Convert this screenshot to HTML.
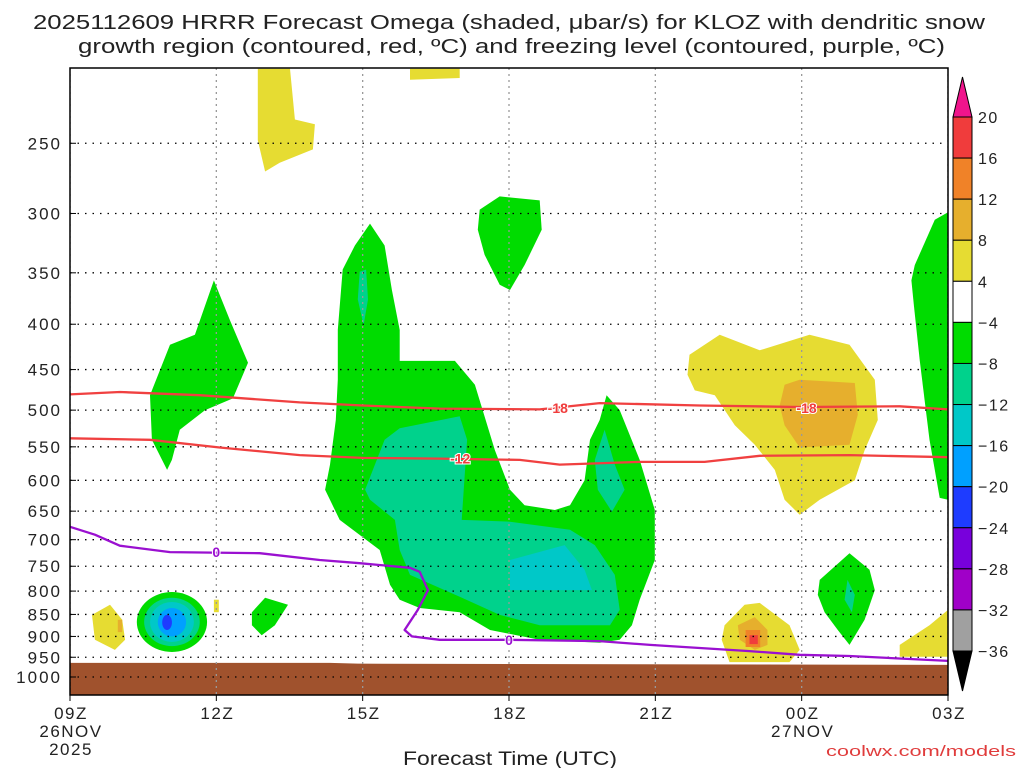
<!DOCTYPE html>
<html><head><meta charset="utf-8"><style>
body{margin:0;background:#fff;}
svg{display:block;font-family:"Liberation Sans",sans-serif;}
</style></head><body>
<svg id="c" width="1024" height="768" xmlns="http://www.w3.org/2000/svg">
<text x="33" y="29" textLength="952" lengthAdjust="spacingAndGlyphs" font-size="20" fill="#222">2025112609 HRRR Forecast Omega (shaded, μbar/s) for KLOZ with dendritic snow</text>
<text x="78" y="53" textLength="867" lengthAdjust="spacingAndGlyphs" font-size="20" fill="#222">growth region (contoured, red, ºC) and freezing level (contoured, purple, ºC)</text>
<text x="403" y="765" textLength="214" lengthAdjust="spacingAndGlyphs" font-size="19" fill="#222">Forecast Time (UTC)</text>
<text x="826" y="756" textLength="190" lengthAdjust="spacingAndGlyphs" font-size="15" fill="#e03c3c">coolwx.com/models</text>
</svg>
<script>
const xTicks=[0,3,6,9,12,15,18];
const xTickLabels=["09Z","12Z","15Z","18Z","21Z","00Z","03Z"];
const dateLabels=[[0,"26NOV","2025"],[15,"27NOV",""]];
const pTicks=[250,300,350,400,450,500,550,600,650,700,750,800,850,900,950,1000];
const cbLevels=["20","16","12","8","4","−4","−8","−12","−16","−20","−24","−28","−32","−36"];
const cbColors=["#f03c3c","#f08228","#e6af2d","#e6dc32","#ffffff","#00dc00","#00d28c","#00c8c8","#00a0ff","#1e3cff","#7800dc","#a000c8","#a0a0a0"];
const shadeColors={green:"#00dc00",teal:"#00d28c",cyan:"#00c8c8",lblue:"#00a0ff",dblue:"#1e3cff",yellow:"#e6dc32",dyellow:"#e6af2d",orange:"#f08228",red:"#f03c3c"};
const areas=[
["green",[[6.15,308],[6.45,326],[6.6,366],[6.76,406],[6.76,440],[7.89,440],[8.3,468],[8.71,555],[9.02,615],[9.32,640],[9.94,648],[10.25,640],[10.55,600],[10.66,540],[10.86,513],[11.0,481],[11.27,500],[11.68,569],[11.99,648],[11.99,738],[11.68,818],[11.52,874],[11.27,908],[10.86,915],[9.63,908],[8.61,885],[7.99,845],[7.17,836],[6.76,818],[6.56,787],[6.35,719],[5.53,665],[5.23,615],[5.33,576],[5.45,513],[5.49,462],[5.49,406],[5.59,347],[5.84,326]]],
["teal",[[6.05,615],[6.45,540],[6.76,524],[7.99,508],[8.14,540],[8.03,665],[9.02,668],[10.25,682],[10.76,710],[11.17,767],[11.27,840],[11.07,874],[9.63,874],[8.81,851],[7.99,812],[6.97,767],[6.76,719],[6.66,665],[6.15,631]]],
["cyan",[[9.02,738],[10.14,710],[10.55,757],[10.7,798],[9.02,798]]],
["teal",[[5.94,349],[6.07,347],[6.11,375],[6.02,401],[5.9,375]]],
["teal",[[10.96,526],[11.17,576],[11.37,615],[11.11,651],[10.82,615],[10.76,569]]],
["green",[[1.64,481],[2.05,422],[2.56,411],[2.95,357],[3.28,396],[3.65,442],[3.34,485],[2.77,500],[2.25,526],[2.09,569],[1.99,584],[1.68,540]]],
["green",[[8.4,297],[8.81,287],[9.63,290],[9.67,313],[9.32,343],[9.02,366],[8.81,361],[8.5,334],[8.36,313]]],
["yellow",[[3.85,206],[4.51,206],[4.61,235],[5.02,238],[4.98,254],[4.3,263],[4.0,269],[3.85,248]]],
["yellow",[[6.97,206],[7.99,206],[7.99,211],[6.97,212]]],
["yellow",[[12.7,433],[13.32,411],[14.14,428],[15.16,411],[15.98,422],[16.5,462],[16.56,513],[16.29,555],[16.09,600],[15.37,631],[14.96,656],[14.65,631],[14.45,584],[14.04,547],[13.63,520],[13.22,481],[12.81,475],[12.66,456]]],
["dyellow",[[14.65,468],[14.96,462],[16.09,466],[16.15,506],[15.98,547],[14.96,551],[14.65,520],[14.55,494]]],
["green",[[17.32,343],[17.73,305],[18,299],[18,631],[17.83,628],[17.62,540],[17.52,487],[17.42,439],[17.3,381],[17.25,357]]],
["yellow",[[17.01,920],[17.62,874],[18,840],[18,949],[17.01,949]]],
["green",[[15.37,777],[15.98,725],[16.39,757],[16.5,798],[16.29,862],[15.98,920],[15.74,885],[15.47,845],[15.33,808]]],
["teal",[[15.94,777],[16.09,808],[16.03,845],[15.88,818]]],
["yellow",[[13.42,874],[13.83,829],[14.14,825],[14.75,874],[14.96,932],[14.75,962],[13.52,962],[13.36,908]]],
["dyellow",[[13.69,874],[14.04,856],[14.3,885],[14.3,920],[14.04,932],[13.73,908]]],
["orange",[[13.85,885],[14.15,885],[14.15,925],[13.85,925]]],
["red",[[13.93,897],[14.1,897],[14.1,918],[13.93,918]]],
["yellow",[[0.45,851],[0.82,829],[1.07,862],[1.13,908],[0.92,932],[0.51,908]]],
["dyellow",[[0.98,862],[1.07,862],[1.07,890],[0.98,890]]],
["green",[[3.73,845],[4.0,814],[4.47,829],[4.2,874],[3.93,897],[3.73,874]]],
["yellow",[[2.95,818],[3.05,818],[3.05,845],[2.95,845]]]
];
const blobs=[
["green",1.37,2.81,802,937],["teal",1.52,2.66,814,923],["cyan",1.64,2.54,823,913],["lblue",1.80,2.38,836,900],["dblue",1.89,2.09,851,885]
];
const ground=[[0,964],[5.33,964],[5.9,966],[18,969]];
const line18=[[0,480],[1.02,477],[2.66,481],[4.71,490],[6.0,494],[7.58,498],[9.63,499],[10.86,491],[12.91,494],[14.96,496],[17.01,495],[18,499]];
const line12=[[0,538],[1.64,540],[3.07,551],[4.71,562],[6.0,566],[7.58,567],[9.22,569],[10.04,576],[11.68,572],[13.01,572],[14.14,563],[15.98,562],[18,565]];
const line0=[[0,677],[0.51,691],[1.02,711],[2.05,723],[3.89,725],[5.12,738],[5.94,744],[6.97,753],[7.17,761],[7.34,798],[7.13,840],[6.86,885],[7.01,900],[7.58,908],[9.02,908],[10.86,911],[11.89,920],[13.93,935],[14.96,944],[15.98,947],[18,959]];
const lineLabels=[["-18",10.0,497,"#f03c3c"],["-18",15.1,497,"#f03c3c"],["-12",8.0,567,"#f03c3c"],["0",3.0,723,"#9a10d0"],["0",9.0,908,"#9a10d0"]];

const X0=70,X1=948,Y0=68,Y1=695;
const xs=h=>X0+h*(X1-X0)/18;
const ys=p=>677-385*Math.log(1000/p);
const NS="http://www.w3.org/2000/svg";
const svg=document.getElementById('c');
function mk(t,a,parent){const e=document.createElementNS(NS,t);for(const k in a)e.setAttribute(k,a[k]);(parent||svg).appendChild(e);return e;}
const pts=arr=>arr.map(d=>xs(d[0]).toFixed(1)+","+ys(d[1]).toFixed(1)).join(" ");

const clip=mk('clipPath',{id:'pc'});mk('rect',{x:X0,y:Y0,width:X1-X0,height:Y1-Y0},clip);
const g=mk('g',{'clip-path':'url(#pc)'});


areas.forEach(a=>{const e=mk('polygon',{points:pts(a[1]),fill:shadeColors[a[0]]},g);

});
blobs.forEach(b=>{const cx=(xs(b[1])+xs(b[2]))/2,cy=(ys(b[3])+ys(b[4]))/2;
const e=mk('ellipse',{cx:cx,cy:cy,rx:(xs(b[2])-xs(b[1]))/2,ry:(ys(b[4])-ys(b[3]))/2,fill:shadeColors[b[0]]},g);

});
const gp=ground.map(d=>xs(d[0])+","+ys(d[1])).join(" ")+" "+xs(18)+","+Y1+" "+xs(0)+","+Y1;
const gr=mk('polygon',{points:gp,fill:"#a0522d"},g);


pTicks.forEach(p=>{const l=mk('line',{x1:X0,x2:X1,y1:ys(p),y2:ys(p),stroke:"#000","stroke-width":1.3,"stroke-dasharray":"1.5,6"},g);

});
xTicks.forEach(h=>{const l=mk('line',{x1:xs(h),x2:xs(h),y1:Y0,y2:Y1,stroke:"#999","stroke-width":1.3,"stroke-dasharray":"2,4"},g);

});
[[line18,"#f04040","dgz-minus18-line"],[line12,"#f04040","dgz-minus12-line"],[line0,"#9a10d0","freezing-level-line"]].forEach(L=>{
const e=mk('polyline',{points:pts(L[0]),fill:"none",stroke:L[1],"stroke-width":2.3,"stroke-linejoin":"round"},g);

});
lineLabels.forEach(l=>{const x=xs(l[1]),y=ys(l[2]);
const t=mk('text',{x:x,y:y+5,"text-anchor":"middle","font-size":14,"font-weight":"bold",fill:l[3],stroke:"#fff","stroke-width":2,"paint-order":"stroke"},g);
t.textContent=l[0];

});
const bd=mk('rect',{x:X0,y:Y0,width:X1-X0,height:Y1-Y0,fill:"none",stroke:"#000","stroke-width":1.5});


pTicks.forEach(p=>{const t=mk('text',{x:62,y:ys(p)+6,"text-anchor":"end","font-size":17,"letter-spacing":"2",fill:"#222"});t.textContent=p;


mk('line',{x1:X0,x2:X0+6,y1:ys(p),y2:ys(p),stroke:"#000"});});
xTicks.forEach((h,i)=>{const t=mk('text',{x:xs(h)+1,y:719,"text-anchor":"middle","font-size":17,"letter-spacing":"1.5",fill:"#222"});t.textContent=xTickLabels[i];


mk('line',{x1:xs(h),x2:xs(h),y1:Y1,y2:Y1+6,stroke:"#000"});});
dateLabels.forEach(d=>{[d[1],d[2]].forEach((s,k)=>{if(!s)return;const t=mk('text',{x:xs(d[0])+1,y:737+k*18,"text-anchor":"middle","font-size":17,"letter-spacing":"1.5",fill:"#222"});t.textContent=s;

});});
const CX=953,CW=19,CT=117,CB=651,bh=(CB-CT)/cbColors.length;
const cb=mk('g',{});


mk('polygon',{points:`${CX},${CT} ${CX+CW},${CT} ${CX+CW/2},77`,fill:"#f0148c",stroke:"#000"},cb);
mk('polygon',{points:`${CX},${CB} ${CX+CW},${CB} ${CX+CW/2},691`,fill:"#000",stroke:"#000"},cb);
cbColors.forEach((c,i)=>{const r=mk('rect',{x:CX,y:CT+i*bh,width:CW,height:bh,fill:c,stroke:"#000","stroke-width":1},cb);

});
cbLevels.forEach((s,i)=>{const t=mk('text',{x:978,y:CT+i*bh+6,"font-size":16,"letter-spacing":"1.5",fill:"#222"},cb);t.textContent=s;

});
</script>
</body></html>
